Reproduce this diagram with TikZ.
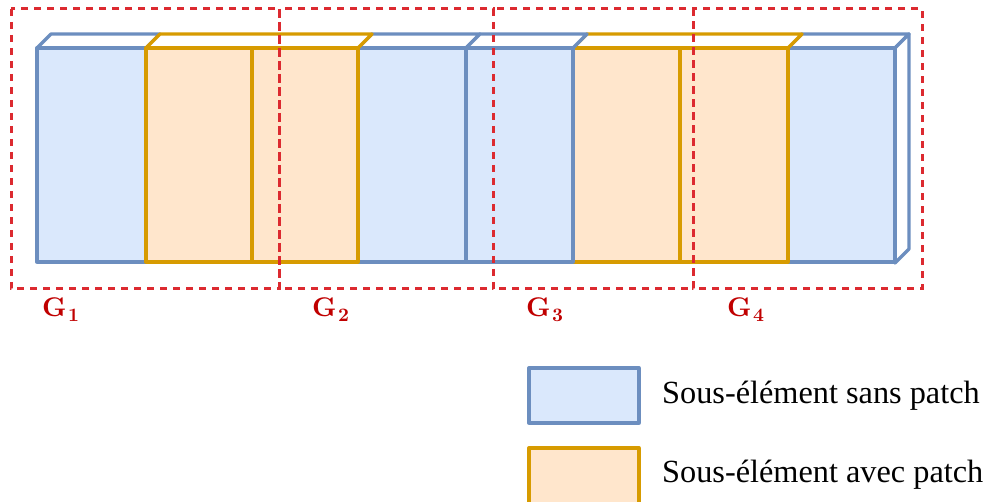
\documentclass[tikz,border=0pt]{standalone}
\usepackage{fontspec}
\setmainfont{Liberation Serif}
\newfontfamily\lmbfont{lmroman10-bold.otf}
\definecolor{bfill}{HTML}{DAE8FC}
\definecolor{bdraw}{HTML}{6C8EBF}
\definecolor{ofill}{HTML}{FFE6CC}
\definecolor{odraw}{HTML}{D79B00}
\definecolor{grpred}{HTML}{DC2A30}
\definecolor{lblred}{HTML}{C00000}
\newcommand{\grplabel}[1]{{\lmbfont\fontsize{27}{30}\selectfont G\kern1.5pt\raisebox{-5pt}{\fontsize{19}{20}\selectfont #1}}}
\begin{document}
\begin{tikzpicture}[x=1pt,y=-1pt,
  bluecell/.style={draw=bdraw,fill=bfill,line width=3.3pt,line join=round},
  orcell/.style={draw=odraw,fill=ofill,line width=3.3pt,line join=round},
  bluetop/.style={draw=bdraw,fill=white,line width=3.3pt,line join=round},
  ortop/.style={draw=odraw,fill=white,line width=3.3pt,line join=round},
  grp/.style={draw=grpred,line width=3pt,dash pattern=on 7pt off 6pt},
  glabel/.style={text=lblred,inner sep=0pt,anchor=base west},
  legtext/.style={font=\fontsize{32.3}{36}\selectfont,anchor=west,inner sep=0pt}]
\useasboundingbox (0,0) rectangle (990,502);
% blue cell 1
\draw[bluetop] (37,48) -- (51,34) -- (160,34) -- (146,48) -- cycle;
\draw[bluecell] (37,48) rectangle (146,262);
% blue cell 358-466
\draw[bluetop] (358,48) -- (372,34) -- (480,34) -- (466,48) -- cycle;
\draw[bluecell] (358,48) rectangle (466,262);
% blue cell 788-895 with side face
\draw[bluetop] (788,48) -- (802,34) -- (909,34) -- (895,48) -- cycle;
\draw[bluetop] (895,48) -- (909,34) -- (909,249) -- (895,263) -- cycle;
\draw[bluecell] (788,48) rectangle (895,262);
% orange group 146-358
\draw[ortop] (146,48) -- (160,34) -- (372,34) -- (358,48) -- cycle;
\draw[orcell] (146,48) rectangle (252,262);
\draw[orcell] (252,48) rectangle (358,262);
% orange group 573-788
\draw[ortop] (573,48) -- (587,34) -- (802,34) -- (788,48) -- cycle;
\draw[orcell] (573,48) rectangle (680,262);
\draw[orcell] (680,48) rectangle (788,262);
% blue cell 466-573
\draw[bluetop] (466,48) -- (480,34) -- (587,34) -- (573,48) -- cycle;
\draw[bluecell] (466,48) rectangle (573,262);
% groups
\draw[grp] (11,9) rectangle (279,289);
\draw[grp] (279,9) rectangle (493,289);
\draw[grp] (493,9) rectangle (693,289);
\draw[grp] (693,9) rectangle (922,289);
\node[glabel] (g1) at (42,317) {\grplabel{1}};
\node[glabel] (g2) at (312,317) {\grplabel{2}};
\node[glabel] (g3) at (526,317) {\grplabel{3}};
\node[glabel] (g4) at (727,317) {\grplabel{4}};
% legend
\draw[bluecell] (529,368) rectangle (639,423);
\draw[orcell] (529,448) rectangle (639,504);
\node[legtext] (l1) at (662,396) {Sous-élément sans patch};
\node[legtext] (l2) at (662,475) {Sous-élément avec patch};
\end{tikzpicture}
\end{document}
